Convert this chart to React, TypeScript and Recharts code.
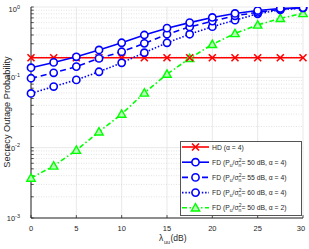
import React from 'react';
import {
  LineChart,
  Line,
  XAxis,
  YAxis,
  CartesianGrid,
  ReferenceLine,
} from 'recharts';

const lambdaDb = [0, 2.5, 5, 7.5, 10, 12.5, 15, 17.5, 20, 22.5, 25, 27.5, 30];
const hdAlpha4 = [0.19, 0.19, 0.19, 0.19, 0.19, 0.19, 0.19, 0.19, 0.19, 0.19, 0.19, 0.19, 0.19];
const fd50Alpha4 = [0.137, 0.163, 0.196, 0.245, 0.31, 0.4, 0.5, 0.6, 0.71, 0.81, 0.89, 0.95, 0.98];
const fd55Alpha4 = [0.097, 0.116, 0.142, 0.186, 0.231, 0.304, 0.41, 0.52, 0.63, 0.75, 0.84, 0.93, 0.97];
const fd60Alpha4 = [0.059, 0.074, 0.092, 0.12, 0.161, 0.224, 0.31, 0.41, 0.525, 0.65, 0.8, 0.91, 0.97];
const fd50Alpha2 = [0.0037, 0.0055, 0.0092, 0.0168, 0.03, 0.06, 0.111, 0.186, 0.294, 0.42, 0.555, 0.69, 0.81];

const xTicks = [0, 5, 10, 15, 20, 25, 30];
const yTicks = [0.001, 0.01, 0.1, 1];
const yExponents = ['-3', '-2', '-1', '0'];

const data = lambdaDb.map((x, i) => ({
  x,
  hd: hdAlpha4[i],
  fd50: fd50Alpha4[i],
  fd55: fd55Alpha4[i],
  fd60: fd60Alpha4[i],
  fd50a2: fd50Alpha2[i],
}));

// minor log grid (2..9 per decade)
const minorGrid: number[] = [];
[0.001, 0.01, 0.1].forEach((d) => {
  for (let k = 2; k <= 9; k++) minorGrid.push(d * k);
});

const RED = '#ff0000';
const BLUE = '#0000ff';
const GREEN = '#00ff00';
const TXT = '#262626';
const FONT = 'Liberation Sans, Arial, sans-serif';

const CrossDot = (props: any) => {
  const { cx, cy } = props;
  if (cx == null || cy == null) return null;
  const s = 3.5;
  return (
    <g stroke={RED} strokeWidth={1.6}>
      <line x1={cx - s} y1={cy - s} x2={cx + s} y2={cy + s} />
      <line x1={cx - s} y1={cy + s} x2={cx + s} y2={cy - s} />
    </g>
  );
};

const CircleDot = (props: any) => {
  const { cx, cy } = props;
  if (cx == null || cy == null) return null;
  return <circle cx={cx} cy={cy} r={3.6} fill="#fff" stroke={BLUE} strokeWidth={1.6} />;
};

const TriDot = (props: any) => {
  const { cx, cy } = props;
  if (cx == null || cy == null) return null;
  const s = 4.2;
  return (
    <polygon
      points={`${cx},${cy - s} ${cx - s},${cy + s * 0.75} ${cx + s},${cy + s * 0.75}`}
      fill="#b8ffb8"
      stroke={GREEN}
      strokeWidth={1.4}
    />
  );
};

const YTick = (props: any) => {
  const { x, y, index } = props;
  return (
    <text x={x - 3} y={y + 3} textAnchor="end" fontSize={7.5} fill={TXT} fontFamily={FONT}>
      10
      <tspan dy={-3.5} fontSize={5.5}>{yExponents[index]}</tspan>
    </text>
  );
};

const XTick = (props: any) => {
  const { x, y, payload } = props;
  return (
    <text x={x} y={y + 5} textAnchor="middle" fontSize={7.5} fill={TXT} fontFamily={FONT}>
      {payload.value}
    </text>
  );
};

const legendRows = [
  { color: RED, dash: undefined, marker: 'x', dbs: null, alpha: '4' },
  { color: BLUE, dash: undefined, marker: 'o', dbs: '50', alpha: '4' },
  { color: BLUE, dash: '6 4', marker: 'o', dbs: '55', alpha: '4' },
  { color: BLUE, dash: '1.5 1.8', marker: 'o', dbs: '60', alpha: '4' },
  { color: GREEN, dash: '5 2.5 1.5 2.5', marker: 't', dbs: '50', alpha: '2' },
];

const LegendBox = () => (
  <svg
    width={123}
    height={76}
    style={{ position: 'absolute', left: 180, top: 141 }}
  >
    <rect x={0.5} y={0.5} width={121} height={74} fill="#fff" stroke="#555" strokeWidth={1} />
    {legendRows.map((r, i) => {
      const cy = 6 + i * 15.2;
      const mx = 15.5;
      return (
        <g key={i}>
          <line x1={2} y1={cy} x2={29} y2={cy} stroke={r.color} strokeWidth={1.6} strokeDasharray={r.dash} />
          {r.marker === 'x' && <CrossDot cx={mx} cy={cy} />}
          {r.marker === 'o' && <CircleDot cx={mx} cy={cy} />}
          {r.marker === 't' && <TriDot cx={mx} cy={cy} />}
          {r.dbs == null ? (
            <text x={32} y={cy + 2.5} fontSize={6.8} fill={TXT} fontFamily={FONT}>
              HD (α = {r.alpha})
            </text>
          ) : (
            <text x={32} y={cy + 2.5} fontSize={6.8} fill={TXT} fontFamily={FONT}>
              FD (P
              <tspan dy={2} fontSize={5}>u</tspan>
              <tspan dy={-2}>/σ</tspan>
              <tspan dy={-3} fontSize={5}>2</tspan>
              <tspan dx={-2.8} dy={5} fontSize={5}>n</tspan>
              <tspan dy={-2}>= {r.dbs} dB, α = {r.alpha})</tspan>
            </text>
          )}
        </g>
      );
    })}
  </svg>
);

const YLabel = () => (
  <text
    x={10}
    y={112}
    transform="rotate(-90 10 112)"
    textAnchor="middle"
    fontSize={9.2}
    fill={TXT}
    fontFamily={FONT}
  >
    Secrecy Outage Probability
  </text>
);

const XLabel = () => (
  <g fill={TXT} fontFamily={FONT}>
    <text x={159} y={241} fontSize={8.5}>λ</text>
    <text x={164} y={244} fontSize={5.5}>uu</text>
    <text x={170.5} y={241} fontSize={8.5}>(dB)</text>
  </g>
);

const App: React.FC = () => {
  return (
    <div style={{ position: 'absolute', left: 0, top: 0, width: 309, height: 249, background: '#fff' }}>
      <LineChart width={309} height={249} data={data} margin={{ top: 7, right: 6, left: 0, bottom: 0 }}>
        <CartesianGrid stroke="#e3e3e3" strokeWidth={0.8} />
        {minorGrid.map((v) => (
          <ReferenceLine key={v} y={v} stroke="#d0d0d0" strokeWidth={0.6} strokeDasharray="1 1.5" />
        ))}
        {/* inward tick marks */}
        {minorGrid.concat(yTicks).map((v) => (
          <ReferenceLine
            key={'t' + v}
            segment={[{ x: 0, y: v }, { x: 0.3, y: v }]}
            stroke={TXT}
            strokeWidth={0.8}
          />
        ))}
        {xTicks.map((v) => (
          <ReferenceLine
            key={'xt' + v}
            segment={[{ x: v, y: 0.001 }, { x: v, y: 0.0011 }]}
            stroke={TXT}
            strokeWidth={0.8}
          />
        ))}
        <XAxis
          dataKey="x"
          type="number"
          domain={[0, 30]}
          ticks={xTicks}
          height={31}
          tickLine={false}
          axisLine={{ stroke: TXT }}
          tick={<XTick />}
          label={<XLabel />}
        />
        <YAxis
          scale="log"
          domain={[0.001, 1]}
          ticks={yTicks}
          width={31}
          tickLine={false}
          axisLine={{ stroke: TXT }}
          tick={<YTick />}
          allowDataOverflow
          label={<YLabel />}
        />
        <Line
          dataKey="fd50a2"
          stroke={GREEN}
          strokeWidth={1.6}
          strokeDasharray="5 2.5 1.5 2.5"
          dot={<TriDot />}
          isAnimationActive={false}
        />
        <Line
          dataKey="hd"
          stroke={RED}
          strokeWidth={1.6}
          dot={<CrossDot />}
          isAnimationActive={false}
        />
        <Line
          dataKey="fd60"
          stroke={BLUE}
          strokeWidth={1.6}
          strokeDasharray="1.5 1.8"
          dot={<CircleDot />}
          isAnimationActive={false}
        />
        <Line
          dataKey="fd55"
          stroke={BLUE}
          strokeWidth={1.6}
          strokeDasharray="6 4"
          dot={<CircleDot />}
          isAnimationActive={false}
        />
        <Line
          dataKey="fd50"
          stroke={BLUE}
          strokeWidth={1.6}
          dot={<CircleDot />}
          isAnimationActive={false}
        />
      </LineChart>
      <LegendBox />
    </div>
  );
};

export default App;
